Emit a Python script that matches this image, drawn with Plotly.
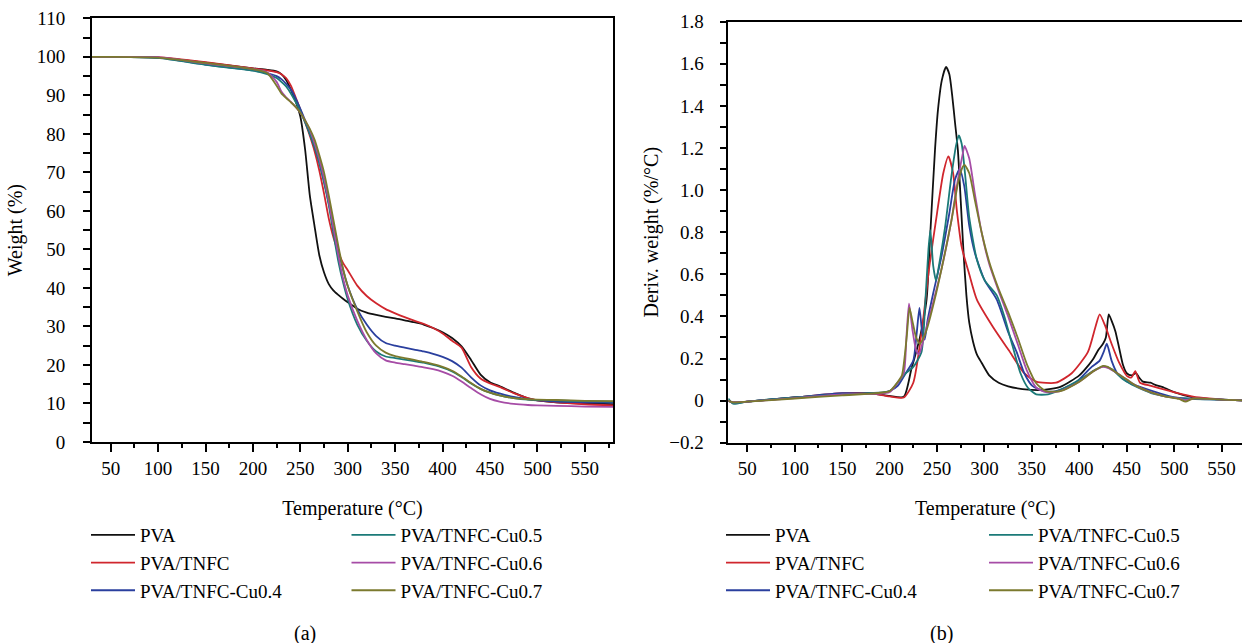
import plotly.graph_objects as go

# ---------------- data ----------------
names = ["PVA", "PVA/TNFC", "PVA/TNFC-Cu0.4", "PVA/TNFC-Cu0.5", "PVA/TNFC-Cu0.6", "PVA/TNFC-Cu0.7"]
colors = ["#111111", "#d0262d", "#2a3f9e", "#1b7a78", "#a64ca6", "#7b7a2e"]

# (a) TGA: weight (%) vs temperature
T_tga = [30, 50, 100, 150, 200, 215, 225, 230, 235, 240, 245, 250, 255, 260, 265, 270, 275, 280, 285, 290,
         295, 300, 310, 320, 330, 340, 350, 360, 370, 380, 390, 400, 410, 420, 430, 440, 450, 460, 475, 490,
         500, 520, 550, 580]
w_pva = [100, 100, 99.8, 98.5, 97.0, 96.6, 96.2, 95.5, 94, 91.5, 88.5, 84.5, 76, 64, 56, 48.5, 44, 41, 39.3, 38.2,
         37.2, 36.3, 34.6, 33.6, 33, 32.5, 32.1, 31.6, 31.1, 30.5, 29.6, 28.5, 27, 24.8, 21.3, 17.5, 15.5, 14.5, 12.8, 11.3,
         10.8, 10.3, 10.0, 9.8]
w_tnfc = [100, 100, 99.9, 98.6, 97.0, 96.5, 96.0, 95.5, 94.5, 92.5, 89.5, 86.3, 83, 79.5, 75.5, 70.5, 64.5, 58, 53, 49.3,
          46.5, 44.6, 40.6, 37.9, 36, 34.5, 33.4, 32.4, 31.5, 30.7, 29.6, 28.2, 26.3, 24.5, 19.5, 16.5, 15.2, 14.3, 12.7, 11.4,
          10.8, 10.3, 9.8, 9.5]
w_cu04 = [100, 100, 99.8, 98.0, 96.5, 95.8, 95.0, 94.2, 93, 91.5, 89.2, 86.5, 83.5, 80, 76.5, 72.5, 67.5, 62, 56, 50,
          44.8, 40.5, 34.5, 30.5, 27.5, 25.7, 25.0, 24.5, 24.0, 23.5, 22.9, 22.1, 21, 19.3, 16.8, 14.7, 13.4, 12.6, 11.7, 11.1,
          10.8, 10.5, 10.3, 10.2]
w_cu05 = [100, 100, 99.7, 97.9, 96.4, 95.5, 94.5, 93.5, 92.3, 90.5, 88.3, 85.8, 83, 80, 76.5, 72.5, 67.5, 61.5, 54, 47,
          41.5, 37, 30.5, 26.3, 23.5, 22.2, 21.8, 21.4, 21.0, 20.6, 20.0, 19.3, 18.3, 16.9, 15.2, 13.8, 12.8, 12.1, 11.4, 11.0,
          10.9, 10.8, 10.6, 10.5]
w_cu06 = [100, 100, 99.9, 98.3, 96.8, 96.0, 93.5, 91, 89.5, 88.3, 87, 85.5, 83.5, 81, 77.5, 73.5, 68.5, 62.5, 55.5, 48.5,
          42.5, 38, 31.5, 26.5, 23, 21.2, 20.6, 20.2, 19.8, 19.4, 18.9, 18.2, 17.2, 15.7, 14, 12.4, 11.2, 10.5, 9.9, 9.6,
          9.5, 9.4, 9.2, 9.1]
w_cu07 = [100, 100, 99.8, 98.4, 96.8, 95.8, 92.5, 90.5, 89.3, 88.2, 87, 85.5, 83.5, 81.3, 78.5, 74.5, 70, 64, 57.5, 51,
          45, 40.5, 34, 28.5, 25, 23.2, 22.3, 21.8, 21.3, 20.8, 20.2, 19.5, 18.5, 17, 15.3, 13.8, 12.8, 12.1, 11.4, 11.1,
          11.0, 10.9, 10.7, 10.6]

# (b) DTG: deriv. weight (%/°C) vs temperature
T_d_pva = [30, 35, 50, 100, 150, 180, 200, 215, 223, 232, 239, 243, 248, 251, 255, 259.5, 263, 266, 269, 272, 275,
           278, 281, 284, 288, 292, 297, 305, 315, 325, 340, 360, 380, 400, 410, 415, 420, 425, 428, 431, 434,
           438, 442, 446, 450, 455, 460, 463, 467, 475, 480, 490, 500, 520, 550, 580]
d_pva = [0, -0.01, -0.005, 0.015, 0.03, 0.035, 0.022, 0.018, 0.15, 0.3, 0.48, 0.8, 1.2, 1.38, 1.52, 1.585, 1.55, 1.45,
         1.32, 1.19, 0.95, 0.7, 0.5, 0.37, 0.28, 0.22, 0.18, 0.12, 0.085, 0.068, 0.055, 0.05, 0.065, 0.12, 0.17, 0.2,
         0.24, 0.27, 0.3, 0.41, 0.38, 0.33, 0.25, 0.17, 0.13, 0.12, 0.13, 0.11, 0.09, 0.085, 0.075, 0.06, 0.04, 0.015,
         0.005, 0]

T_d_tnfc = [30, 35, 50, 100, 150, 180, 200, 215, 225, 233.6, 242, 250, 256.6, 262, 267, 271, 276, 284, 292, 309,
            325.5, 342, 354.6, 375.5, 392, 409, 417, 421.5, 427.7, 434, 442, 450.6, 455, 459, 464, 475.7, 492, 509,
            526, 551, 580]
d_tnfc = [0, -0.008, -0.005, 0.015, 0.035, 0.035, 0.02, 0.015, 0.085, 0.32, 0.64, 0.89, 1.08, 1.16, 1.08, 0.9, 0.73,
          0.6, 0.48, 0.35, 0.24, 0.13, 0.09, 0.085, 0.13, 0.23, 0.35, 0.41, 0.35, 0.27, 0.18, 0.115, 0.11, 0.14, 0.085,
          0.07, 0.05, 0.03, 0.015, 0.005, 0]

T_d_cu04 = [30, 35, 50, 100, 150, 190, 200, 208.6, 217, 225, 228.6, 231.5, 234.5, 237, 240, 246, 254.5, 263, 269,
            274, 278.7, 284, 290, 300.4, 313, 325.5, 334, 342, 350.5, 363, 375.5, 396, 413, 421.5, 425.6, 429, 434,
            440, 450.6, 467, 484, 500, 521, 550, 580]
d_cu04 = [0, -0.01, -0.005, 0.015, 0.035, 0.035, 0.045, 0.07, 0.13, 0.19, 0.32, 0.44, 0.32, 0.29, 0.38, 0.51, 0.68,
          0.89, 1.05, 1.10, 1.02, 0.83, 0.70, 0.57, 0.48, 0.32, 0.23, 0.13, 0.07, 0.045, 0.045, 0.085, 0.16, 0.19,
          0.23, 0.27, 0.19, 0.13, 0.09, 0.06, 0.035, 0.015, 0.008, 0.005, 0]

T_d_cu05 = [30, 35, 50, 100, 150, 200, 208.6, 217, 225, 233.6, 237.8, 241, 243, 246, 249, 252, 258.7, 265, 270,
            273, 276, 279.5, 284, 292, 300.4, 313, 321, 329.6, 338, 346, 354.6, 367, 384, 400.6, 417, 425.6, 434,
            446.5, 459, 475.7, 492, 509, 550, 580]
d_cu05 = [0.01, -0.015, -0.005, 0.015, 0.03, 0.045, 0.085, 0.13, 0.16, 0.23, 0.48, 0.72, 0.81, 0.64, 0.57, 0.64,
          0.83, 1.06, 1.21, 1.26, 1.22, 1.08, 0.87, 0.67, 0.57, 0.5, 0.4, 0.26, 0.13, 0.06, 0.03, 0.03, 0.06, 0.1,
          0.147, 0.163, 0.15, 0.1, 0.068, 0.036, 0.02, 0.01, 0.005, 0]

T_d_cu06 = [30, 35, 50, 100, 150, 200, 208.6, 215, 218, 220.5, 224, 228, 231, 234, 238, 245, 255, 265, 272, 277,
            279, 284, 290, 297, 305, 315, 325, 335, 345, 355, 365, 380, 400, 415, 425, 430, 440, 450, 460, 475, 490,
            505, 512, 520, 550, 580]
d_cu06 = [0, -0.008, -0.005, 0.012, 0.03, 0.04, 0.085, 0.13, 0.32, 0.46, 0.34, 0.24, 0.22, 0.26, 0.33, 0.45, 0.63,
          0.85, 1.05, 1.17, 1.21, 1.15, 0.98, 0.8, 0.65, 0.52, 0.4, 0.27, 0.14, 0.06, 0.04, 0.045, 0.09, 0.14, 0.16,
          0.155, 0.13, 0.1, 0.07, 0.04, 0.02, 0.01, 0.002, 0.01, 0.005, 0]

T_d_cu07 = [30, 35, 50, 100, 150, 200, 208, 213, 218, 221, 224, 228, 232, 236, 240, 247, 255, 265, 272, 277, 279,
            284, 290, 297, 305, 315, 325, 335, 345, 355, 365, 380, 400, 415, 425, 430, 440, 450, 460, 475, 490, 505,
            512, 520, 550, 580]
d_cu07 = [0, -0.008, -0.005, 0.01, 0.025, 0.045, 0.085, 0.12, 0.3, 0.44, 0.38, 0.3, 0.27, 0.3, 0.35, 0.47, 0.63,
          0.85, 1.03, 1.11, 1.12, 1.08, 0.95, 0.8, 0.66, 0.53, 0.42, 0.3, 0.17, 0.08, 0.045, 0.045, 0.09, 0.14,
          0.165, 0.16, 0.13, 0.1, 0.07, 0.04, 0.02, 0.008, -0.005, 0.01, 0.005, 0]

# tick labels
x_ticks = [50, 100, 150, 200, 250, 300, 350, 400, 450, 500, 550]
y1_ticks = [0, 10, 20, 30, 40, 50, 60, 70, 80, 90, 100, 110]
y2_ticks = [-0.2, 0, 0.2, 0.4, 0.6, 0.8, 1.0, 1.2, 1.4, 1.6, 1.8]
y2_labels = ["\u22120.2", "0", "0.2", "0.4", "0.6", "0.8", "1.0", "1.2", "1.4", "1.6", "1.8"]

tga_y = [w_pva, w_tnfc, w_cu04, w_cu05, w_cu06, w_cu07]
dtg_x = [T_d_pva, T_d_tnfc, T_d_cu04, T_d_cu05, T_d_cu06, T_d_cu07]
dtg_y = [d_pva, d_tnfc, d_cu04, d_cu05, d_cu06, d_cu07]

# ---------------- figure ----------------
W, H = 1242, 643
FONT = "Liberation Serif"

def px_x(p):
    return p / W

def px_y(p):
    return (H - p) / H

fig = go.Figure()
for i in range(6):
    fig.add_trace(go.Scatter(
        x=T_tga, y=tga_y[i], name=names[i], mode="lines",
        line=dict(color=colors[i], width=1.8, shape="spline", smoothing=0.6),
        xaxis="x", yaxis="y", legend="legend" if i < 3 else "legend2",
        legendgroup="a%d" % i,
    ))
for i in range(6):
    fig.add_trace(go.Scatter(
        x=dtg_x[i], y=dtg_y[i], name=names[i], mode="lines",
        line=dict(color=colors[i], width=1.8, shape="spline", smoothing=0.6),
        xaxis="x2", yaxis="y2", legend="legend3" if i < 3 else "legend4",
        legendgroup="b%d" % i,
    ))

tickfont = dict(family=FONT, size=19, color="black")
titlefont = dict(family=FONT, size=20, color="black")

def xaxis_cfg(domain, rng, anchor):
    return dict(
        domain=domain, range=rng, anchor=anchor, automargin=False,
        tickmode="array", tickvals=x_ticks,
        ticks="outside", ticklen=8, tickwidth=1.5, tickcolor="black",
        minor=dict(dtick=25, tick0=25, ticks="outside", ticklen=4, tickwidth=1.5, tickcolor="black"),
        showline=True, linecolor="black", linewidth=1.5, mirror=True,
        showgrid=False, zeroline=False,
        tickfont=tickfont,
        title=dict(text="Temperature (\u00b0C)", font=titlefont, standoff=23),
    )

lay = dict(
    width=W, height=H,
    margin=dict(l=0, r=0, t=0, b=0, autoexpand=False),
    paper_bgcolor="white", plot_bgcolor="white",
    xaxis=xaxis_cfg([px_x(91.7), px_x(613.3)], [30, 580], "y"),
    xaxis2=xaxis_cfg([px_x(728.3), 1.0], [30, 571.5], "y2"),
    yaxis=dict(
        domain=[px_y(442), px_y(18.3)], range=[0, 110], anchor="x", automargin=False,
        tickmode="array", tickvals=y1_ticks,
        ticks="outside", ticklen=7, tickwidth=1.5, tickcolor="black",
        minor=dict(dtick=5, tick0=0, ticks="outside", ticklen=7, tickwidth=1.5, tickcolor="black"),
        showline=True, linecolor="black", linewidth=1.5, mirror=True,
        showgrid=False, zeroline=False, tickfont=tickfont, ticklabelstandoff=14,
        title=dict(text="Weight (%)", font=titlefont, standoff=9),
    ),
    yaxis2=dict(
        domain=[px_y(442.7), px_y(21.7)], range=[-0.2, 1.8], anchor="x2", automargin=False,
        tickmode="array", tickvals=y2_ticks, ticktext=y2_labels,
        ticks="outside", ticklen=7, tickwidth=1.5, tickcolor="black",
        minor=dict(dtick=0.1, tick0=0, ticks="outside", ticklen=7, tickwidth=1.5, tickcolor="black"),
        showline=True, linecolor="black", linewidth=1.5, mirror=False,
        showgrid=False, zeroline=False, tickfont=tickfont, ticklabelstandoff=12,
        title=dict(text="Deriv. weight (%/\u00b0C)", font=titlefont, standoff=5),
    ),
    showlegend=True,
)

legfont = dict(family=FONT, size=19, color="black")
leg_common = dict(orientation="v", xanchor="left", yanchor="top", font=legfont,
                  bgcolor="rgba(0,0,0,0)", borderwidth=0, tracegroupgap=0, itemwidth=44)
lay["legend"] = dict(x=px_x(86), y=px_y(516), **leg_common)
lay["legend2"] = dict(x=px_x(346.5), y=px_y(516), **leg_common)
lay["legend3"] = dict(x=px_x(721), y=px_y(516), **leg_common)
lay["legend4"] = dict(x=px_x(984), y=px_y(516), **leg_common)

lay["annotations"] = [
    dict(text="(a)", x=px_x(305), y=px_y(633), xref="paper", yref="paper", showarrow=False,
         font=dict(family=FONT, size=20, color="black"), xanchor="center", yanchor="middle"),
    dict(text="(b)", x=px_x(941), y=px_y(633), xref="paper", yref="paper", showarrow=False,
         font=dict(family=FONT, size=20, color="black"), xanchor="center", yanchor="middle"),
]

fig.update_layout(**lay)
fig.write_html("out.html", config={"displayModeBar": False},
               post_script="document.body.style.margin='0px';document.body.style.overflow='hidden';")
